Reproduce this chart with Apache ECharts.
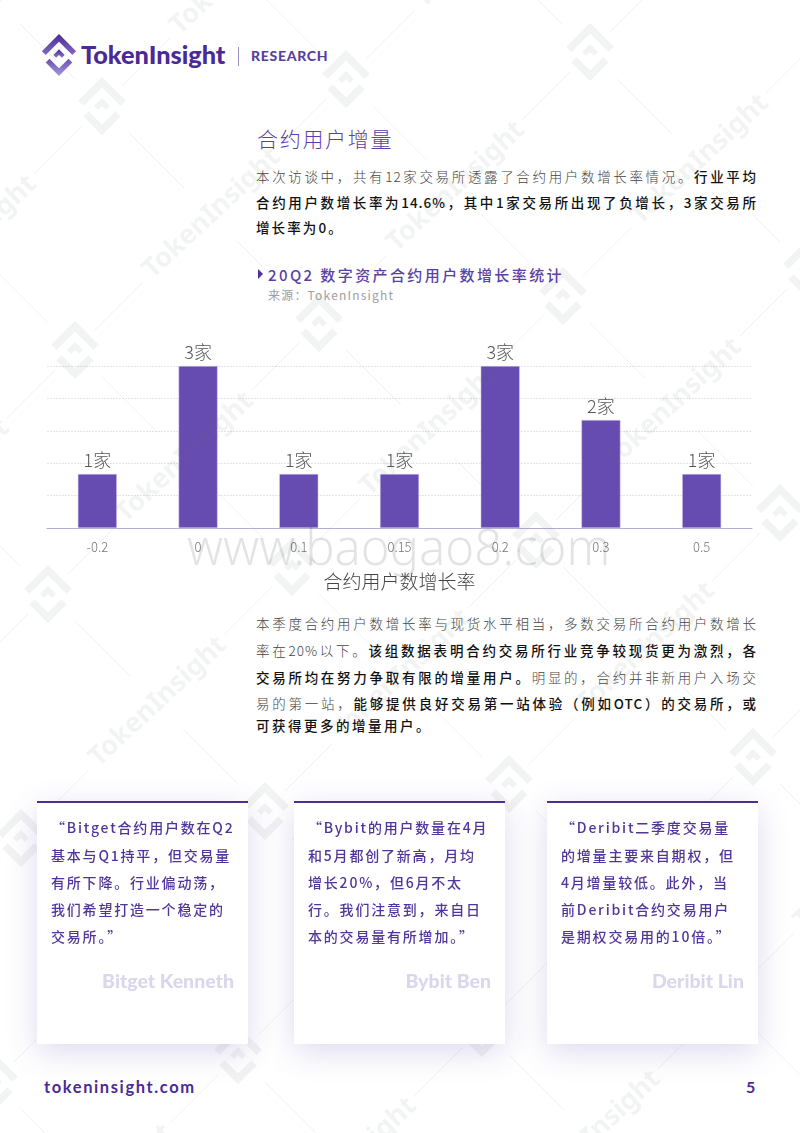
<!DOCTYPE html>
<html>
<head>
<meta charset="utf-8">
<script src="https://cdn.jsdelivr.net/npm/echarts@6/dist/echarts.min.js"></script>
<style>
html,body{margin:0;padding:0;background:#fff;}
#page{position:relative;width:800px;height:1133px;overflow:hidden;font-family:"Noto Sans CJK SC","Noto Sans",sans-serif;}
#chart{position:absolute;left:0;top:330px;width:800px;height:270px;}
#marks{position:absolute;left:0;top:0;z-index:5;pointer-events:none;}
.t{position:absolute;white-space:nowrap;line-height:1;}
.body{left:256px;width:501px;font-size:13.5px;color:#444;font-weight:300;letter-spacing:1px;text-align:justify;text-align-last:justify;}
.body.last{text-align-last:left;letter-spacing:2.1px;}
.body b{font-weight:500;color:#111;}
.card{position:absolute;z-index:8;top:801px;width:211px;height:243px;background:#fff;border-top:2px solid #4a2e90;box-sizing:border-box;box-shadow:0 8px 30px rgba(90,70,170,.2);}
.q{font-size:14px;color:#51359b;letter-spacing:1.8px;font-weight:500;}
.who{font-family:Lato,sans-serif;font-weight:900;font-size:19.5px;color:#dbd6ee;text-align:right;}
.mk{position:absolute;z-index:6;pointer-events:none;color:rgba(110,120,120,.085);font-family:"Noto Sans",sans-serif;font-weight:700;font-size:27px;white-space:nowrap;line-height:1;}
</style>
</head>
<body>
<div id="page"><div id="chart"></div><svg id="marks" width="800" height="1133"></svg></div>
<script>
var categories = ['-0.2', '0', '0.1', '0.15', '0.2', '0.3', '0.5'];
var counts = [1, 3, 1, 1, 3, 2, 1];
var axisName = '合约用户数增长率';
var intro = [
    '本次访谈中，共有12家交易所透露了合约用户数增长率情况。<b>行业平均</b>',
    '<b>合约用户数增长率为14.6%，其中1家交易所出现了负增长，3家交易所</b>',
    '<b>增长率为0。</b>'
];
var outro = [
    '本季度合约用户数增长率与现货水平相当，多数交易所合约用户数增长',
    '率在20%以下。<b>该组数据表明合约交易所行业竞争较现货更为激烈，各</b>',
    '<b>交易所均在努力争取有限的增量用户。</b>明显的，合约并非新用户入场交',
    '易的第一站，<b>能够提供良好交易第一站体验（例如OTC）的交易所，或</b>',
    '<b>可获得更多的增量用户。</b>'
];
var quotes = [
    ['“Bitget合约用户数在Q2', '基本与Q1持平，但交易量', '有所下降。行业偏动荡，', '我们希望打造一个稳定的', '交易所。”'],
    ['“Bybit的用户数量在4月', '和5月都创了新高，月均', '增长20%，但6月不太', '行。我们注意到，来自日', '本的交易量有所增加。”'],
    ['“Deribit二季度交易量', '的增量主要来自期权，但', '4月增量较低。此外，当', '前Deribit合约交易用户', '是期权交易用的10倍。”']
];
var speakers = ['Bitget Kenneth', 'Bybit Ben', 'Deribit Lin'];
var cardLeft = [37, 294, 547];

var page = document.getElementById('page');

function addText(html, cls, left, top, css){
    var el = document.createElement('div');
    el.className = 't ' + cls;
    el.innerHTML = html;
    if(left !== null){ el.style.left = left + 'px'; }
    el.style.top = top + 'px';
    for(var k in css){ el.style[k] = css[k]; }
    page.appendChild(el);
    return el;
}

// 页眉
var latin = {fontFamily: 'Lato,sans-serif', fontWeight: 900};
addText('TokenInsight', '', 81, 42, Object.assign({fontSize: '25.3px', color: '#4a2a95'}, latin));
addText('', '', 238, 47, {width: '1px', height: '19px', background: '#9d8fc6'});
addText('RESEARCH', '', 251, 49, Object.assign({fontSize: '14px', color: '#5a3f9f', letterSpacing: '.7px'}, latin));

// 正文
addText('合约用户增量', '', 257, 128, {fontSize: '21px', color: '#5a3fa6', letterSpacing: '1.7px', fontWeight: 300});
[170, 196, 221].forEach(function(y, i){
    addText(intro[i], 'body' + (i === 2 ? ' last' : ''), null, y);
});
addText('', '', 258, 269, {width: 0, height: 0, borderLeft: '5px solid #4f2f9c', borderTop: '5px solid transparent', borderBottom: '5px solid transparent'});
addText('20Q2 数字资产合约用户数增长率统计', '', 268, 267, {fontSize: '15px', color: '#5a3fa6', letterSpacing: '2.4px', fontWeight: 500});
addText('来源：TokenInsight', '', 268, 289, {fontSize: '12px', color: '#a0a0a0', letterSpacing: '1.2px'});
[617, 644, 671, 697, 719].forEach(function(y, i){
    var line = addText(outro[i], 'body' + (i === 4 ? ' last' : ''), null, y);
    if(i === 4){ line.style.letterSpacing = '2.5px'; }
});

// 引言卡片
cardLeft.forEach(function(x, i){
    var card = document.createElement('div');
    card.className = 'card';
    card.style.left = x + 'px';
    page.appendChild(card);
    [820, 848, 875, 902, 929].forEach(function(y, j){
        addText(quotes[i][j], 'q', x + 14, y, {zIndex: 9});
    });
    addText(speakers[i], 'who', x, 971, {width: '197px', zIndex: 9});
});

// 页脚
addText('tokeninsight.com', '', 44, 1079, {fontFamily: 'Lato,sans-serif', fontWeight: 700, fontSize: '16.5px', color: '#4a2a95', letterSpacing: '1.6px'});
addText('5', '', 746, 1079, {fontFamily: 'Lato,sans-serif', fontWeight: 700, fontSize: '16px', color: '#4a2a95'});
addText('www.baogao8.com', '', 187, 522, {fontFamily: '"Noto Sans",sans-serif', fontWeight: 300, fontSize: '49px', color: 'rgba(0,0,0,.11)', zIndex: 7});

// 水印
var svgNS = 'http://www.w3.org/2000/svg';
var marks = document.getElementById('marks');
var lineColor = 'rgba(110,120,120,.1)';

function logoPaths(cx, cy, r, fill){
    var g = document.createElementNS(svgNS, 'g');
    g.setAttribute('transform', 'translate(' + cx + ',' + cy + ') rotate(45) scale(' + r / 16 + ')');
    g.setAttribute('fill', fill);
    ['M-11,-11H7V-7H-7V7H-11Z', 'M11,11H-3V7H7V-3H11Z', 'M-3,-3H3V0H0V3H-3Z'].forEach(function(d){
        var p = document.createElementNS(svgNS, 'path');
        p.setAttribute('d', d);
        g.appendChild(p);
    });
    return g;
}

function ray(x, y, dx, dy, from, to){
    var l = document.createElementNS(svgNS, 'line');
    l.setAttribute('x1', x + dx * from);
    l.setAttribute('y1', y + dy * from);
    l.setAttribute('x2', x + dx * to);
    l.setAttribute('y2', y + dy * to);
    l.setAttribute('stroke', lineColor);
    l.setAttribute('stroke-width', 1);
    marks.appendChild(l);
}

var diag = Math.SQRT1_2;
for(var r = -1; r < 6; r++){
    for(var c = -1; c < 5; c++){
        var lx = 102 + c * 244 - r * 27, ly = 106 - c * 27 + r * 244;
        var tx = lx + 108, ty = ly + 107;
        var wm = document.createElement('div');
        wm.className = 'mk';
        wm.textContent = 'TokenInsight';
        wm.style.left = (tx - 90) + 'px';
        wm.style.top = (ty - 15) + 'px';
        wm.style.width = '180px';
        wm.style.textAlign = 'center';
        wm.style.transform = 'rotate(-43deg)';
        page.appendChild(wm);
        marks.appendChild(logoPaths(lx, ly, 30, 'rgba(110,120,120,.085)'));
        ray(lx, ly, diag, diag, 38, 116);
        ray(lx, ly, -diag, -diag, 38, 116);
        ray(lx, ly, diag, -diag, 28, 96);
        ray(lx, ly, -diag, diag, 28, 96);
    }
}

// 页眉 logo
var defs = document.createElementNS(svgNS, 'defs');
defs.innerHTML = '<linearGradient id="lg" x1="0" y1="0" x2="1" y2="1"><stop offset="0" stop-color="#4a2a95"/><stop offset="1" stop-color="#a594dc"/></linearGradient>';
marks.appendChild(defs);
marks.appendChild(logoPaths(59, 55, 21.5, 'url(#lg)'));

var chart = echarts.init(document.getElementById('chart'), null, {renderer: 'canvas'});
chart.setOption({
    animation: false,
    grid: {left: 47, right: 48, top: 36, bottom: 72},
    xAxis: {
        type: 'category',
        data: categories,
        name: axisName,
        nameLocation: 'middle',
        nameGap: 44,
        nameTextStyle: {fontSize: 19, color: '#444', fontWeight: 300, fontFamily: 'Noto Sans CJK SC'},
        axisTick: {show: false},
        axisLine: {lineStyle: {color: '#b7abd6', width: 1}},
        axisLabel: {margin: 13, fontSize: 13, color: '#777', fontWeight: 300, fontFamily: 'Noto Sans CJK SC'}
    },
    yAxis: {
        type: 'value',
        min: 0,
        max: 3,
        interval: 0.6,
        axisLabel: {show: false},
        axisLine: {show: false},
        axisTick: {show: false},
        splitLine: {lineStyle: {color: '#d9d9d9', type: [2, 1], width: 0.7}}
    },
    series: [{
        type: 'bar',
        data: counts,
        barWidth: 39,
        itemStyle: {color: '#664bb0', borderColor: '#d8cdf0', borderWidth: 0.5},
        label: {
            show: true,
            position: 'top',
            distance: 5,
            fontSize: 18,
            color: '#555',
            fontWeight: 300,
            fontFamily: 'Noto Sans CJK SC',
            formatter: function(p){ return p.value + '家'; }
        }
    }]
});
</script>
</body>
</html>
